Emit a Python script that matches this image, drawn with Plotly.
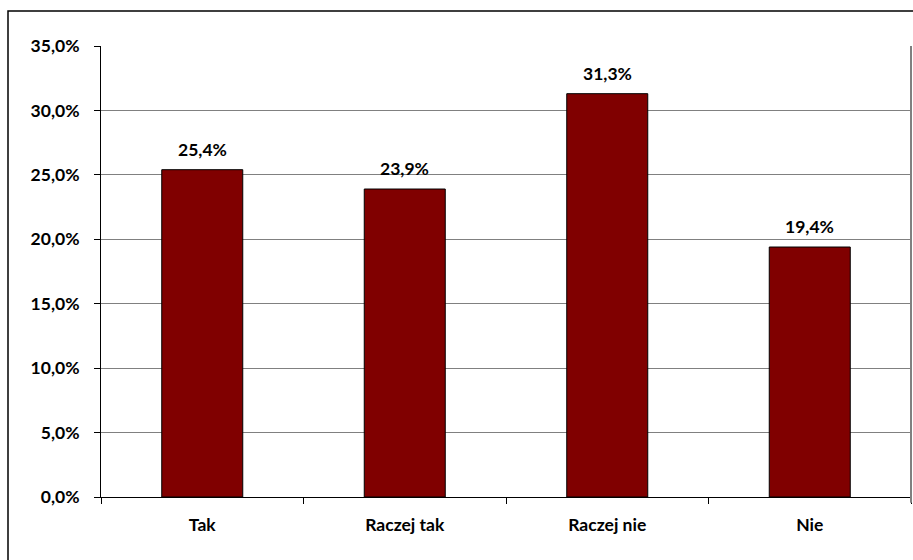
import plotly.graph_objects as go

categories = ["Tak", "Raczej tak", "Raczej nie", "Nie"]
values = [25.4, 23.9, 31.3, 19.4]
y_ticks = [0, 5, 10, 15, 20, 25, 30, 35]
y_tick_labels = ["0,0%", "5,0%", "10,0%", "15,0%", "20,0%", "25,0%", "30,0%", "35,0%"]

FONT = "Lato"
FS = 17.5

fig = go.Figure()
fig.add_trace(go.Bar(
    x=categories, y=values,
    marker=dict(color="#800000", line=dict(color="#000000", width=1)),
    width=0.4,
    hoverinfo="skip",
))

for c, v in zip(categories, values):
    fig.add_annotation(
        x=c, y=v, text=f"{v:.1f}%".replace(".", ","),
        showarrow=False, yanchor="bottom", yshift=8,
        font=dict(family=FONT, size=FS, color="#000000", weight="bold"),
    )

fig.update_layout(
    width=913, height=560,
    margin=dict(l=101, r=2, t=46, b=63),
    paper_bgcolor="white", plot_bgcolor="white",
    showlegend=False,
    font=dict(family=FONT, size=FS, color="#000000", weight="bold"),
    xaxis=dict(
        type="category",
        showline=True, linecolor="#000000", linewidth=1,
        ticks="outside", tickson="boundaries", ticklen=6, tickcolor="#000000",
        showgrid=False,
        ticklabelstandoff=12,
        tickfont=dict(family=FONT, size=FS, weight="bold"),
    ),
    yaxis=dict(
        range=[0, 35],
        tickvals=y_ticks,
        ticktext=y_tick_labels,
        showline=True, linecolor="#000000", linewidth=1,
        ticks="outside", ticklen=6, tickcolor="#000000",
        showgrid=True, gridcolor="#808080", gridwidth=1,
        zeroline=False,
        ticklabelstandoff=11,
        tickfont=dict(family=FONT, size=FS, weight="bold"),
    ),
    shapes=[
        dict(type="line", xref="paper", yref="paper", x0=1, x1=1, y0=-0.013, y1=1,
             line=dict(color="#808080", width=2)),
        dict(type="rect", xref="paper", yref="paper",
             x0=(8 - 101) / 810, x1=1.2, y0=(497 - 11) / 451, y1=-0.3,
             line=dict(color="#000000", width=1.5), fillcolor="rgba(0,0,0,0)", layer="below"),
    ],
)

fig.write_html(
    "out.html",
    config={"displayModeBar": False},
    post_script="document.body.style.margin='0';document.body.style.padding='0';",
)
